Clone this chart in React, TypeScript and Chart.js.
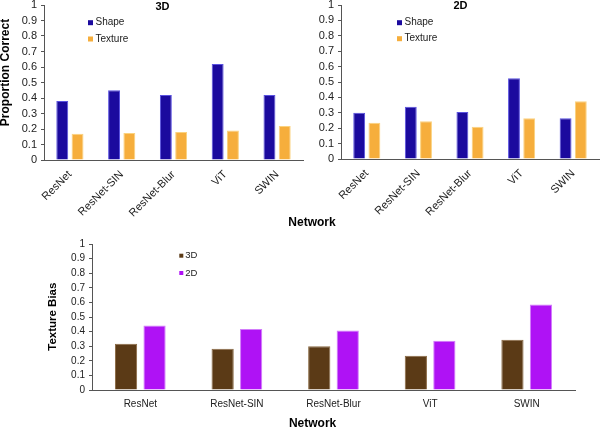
import React, { useEffect, useRef } from 'react';
import { Chart, registerables } from 'chart.js';
Chart.register(...registerables);

const networks = ['ResNet', 'ResNet-SIN', 'ResNet-Blur', 'ViT', 'SWIN'];
const shape3D = [0.38, 0.45, 0.42, 0.62, 0.42];
const texture3D = [0.17, 0.175, 0.18, 0.19, 0.22];
const shape2D = [0.3, 0.34, 0.305, 0.525, 0.265];
const texture2D = [0.235, 0.245, 0.21, 0.265, 0.375];
const bias3D = [0.317, 0.283, 0.299, 0.234, 0.345];
const bias2D = [0.441, 0.418, 0.407, 0.338, 0.586];

const FONT = "'Liberation Sans', Arial, Helvetica, sans-serif";
const SHAPE = '#1b0a9e';
const TEXTURE = '#f6ae3c';
const BROWN = '#5b3a16';
const PURPLE = '#af12f5';

type TextItem = { text: string; x: number; y: number; size: number; rotate?: boolean };
type LegendSpec = { x: number; y: number; gap: number; box: number; size: number; textGap: number };

function extrasPlugin(texts: TextItem[], legend: LegendSpec) {
  return {
    id: 'extras',
    afterDraw(chart: any) {
      const ctx = chart.ctx;
      ctx.save();
      ctx.fillStyle = '#000';
      ctx.textAlign = 'center';
      ctx.textBaseline = 'middle';
      texts.forEach((t) => {
        ctx.save();
        ctx.font = `bold ${t.size}px ${FONT}`;
        ctx.translate(t.x, t.y);
        if (t.rotate) ctx.rotate(-Math.PI / 2);
        ctx.fillText(t.text, 0, 0);
        ctx.restore();
      });
      chart.data.datasets.forEach((ds: any, i: number) => {
        const y = legend.y + i * legend.gap;
        ctx.fillStyle = ds.backgroundColor;
        ctx.fillRect(legend.x, y - legend.box / 2, legend.box, legend.box);
        ctx.fillStyle = '#222';
        ctx.font = `${legend.size}px ${FONT}`;
        ctx.textAlign = 'left';
        ctx.textBaseline = 'middle';
        ctx.fillText(ds.label, legend.x + legend.box + legend.textGap, y);
      });
      ctx.restore();
    },
  };
}

type PanelOpts = {
  datasets: { label: string; data: number[]; color: string; border: string }[];
  yWidth: number;
  xHeight: number;
  padding: { left: number; right: number; top: number; bottom: number };
  tickSize: number;
  xTickSize: number;
  rotation: number;
  xPadding: number;
  texts: TextItem[];
  legend: LegendSpec;
};

function makeConfig(o: PanelOpts): any {
  return {
    type: 'bar',
    data: {
      labels: networks,
      datasets: o.datasets.map((d) => ({
        label: d.label,
        data: d.data,
        backgroundColor: d.color,
        borderColor: d.border,
        borderWidth: { top: 1, left: 1, right: 1, bottom: 0 },
        categoryPercentage: 0.59,
        barPercentage: 0.78,
      })),
    },
    options: {
      responsive: false,
      animation: false,
      devicePixelRatio: 1,
      layout: { padding: o.padding },
      plugins: { legend: { display: false }, title: { display: false }, tooltip: { enabled: false } },
      scales: {
        x: {
          ticks: {
            font: { size: o.xTickSize, family: FONT },
            color: '#222',
            autoSkip: false,
            minRotation: o.rotation,
            maxRotation: o.rotation,
            padding: o.xPadding,
          },
          grid: { display: false },
          border: { display: true, color: '#555', width: 1 },
          afterFit: (s: any) => {
            s.height = o.xHeight;
            s.paddingLeft = 0;
            s.paddingRight = 0;
          },
        },
        y: {
          min: 0,
          max: 1,
          ticks: {
            stepSize: 0.1,
            autoSkip: false,
            font: { size: o.tickSize, family: FONT },
            color: '#222',
            padding: 4,
            callback: (v: any) => String(Math.round(Number(v) * 10) / 10),
          },
          grid: { display: true, drawOnChartArea: false, drawTicks: true, tickLength: 3, color: '#555' },
          border: { display: true, color: '#555', width: 1 },
          afterFit: (s: any) => {
            s.width = o.yWidth;
            s.paddingTop = 0;
            s.paddingBottom = 0;
          },
        },
      },
    },
    plugins: [extrasPlugin(o.texts, o.legend)],
  };
}

function Panel({ left, top, width, height, opts }: { left: number; top: number; width: number; height: number; opts: PanelOpts }) {
  const ref = useRef<HTMLCanvasElement>(null);
  useEffect(() => {
    if (!ref.current) return;
    const chart = new Chart(ref.current, makeConfig(opts));
    return () => chart.destroy();
  }, []);
  return (
    <canvas
      ref={ref}
      width={width}
      height={height}
      style={{ position: 'absolute', left, top, width, height }}
    />
  );
}

export default function App() {
  const topLeft: PanelOpts = {
    datasets: [
      { label: 'Shape', data: shape3D, color: SHAPE, border: '#5a52e0' },
      { label: 'Texture', data: texture3D, color: TEXTURE, border: '#fbd27e' },
    ],
    yWidth: 44,
    xHeight: 75,
    padding: { left: 0, right: 37, top: 5, bottom: 0 },
    tickSize: 11,
    xTickSize: 11,
    rotation: 45,
    xPadding: 0,
    texts: [
      { text: '3D', x: 162.5, y: 6.5, size: 11 },
      { text: 'Proportion Correct', x: 6, y: 72.5, size: 12, rotate: true },
      { text: 'Network', x: 312, y: 223, size: 12 },
    ],
    legend: { x: 88, y: 22.7, gap: 16.3, box: 5, size: 10, textGap: 2.5 },
  };
  const topRight: PanelOpts = {
    datasets: [
      { label: 'Shape', data: shape2D, color: SHAPE, border: '#5a52e0' },
      { label: 'Texture', data: texture2D, color: TEXTURE, border: '#fbd27e' },
    ],
    yWidth: 41,
    xHeight: 76,
    padding: { left: 0, right: 1, top: 5, bottom: 0 },
    tickSize: 11,
    xTickSize: 11,
    rotation: 45,
    xPadding: 0,
    texts: [{ text: '2D', x: 160.5, y: 6, size: 11 }],
    legend: { x: 97, y: 22.7, gap: 16, box: 5, size: 10, textGap: 2.5 },
  };
  const bottom: PanelOpts = {
    datasets: [
      { label: '3D', data: bias3D, color: BROWN, border: '#8a6a44' },
      { label: '2D', data: bias2D, color: PURPLE, border: '#d27cfb' },
    ],
    yWidth: 92,
    xHeight: 39,
    padding: { left: 0, right: 25, top: 14, bottom: 0 },
    tickSize: 10,
    xTickSize: 10,
    rotation: 0,
    xPadding: 0,
    texts: [
      { text: 'Texture Bias', x: 53, y: 86.7, size: 11.5, rotate: true },
      { text: 'Network', x: 312.6, y: 193.3, size: 12 },
    ],
    legend: { x: 179.3, y: 25.7, gap: 17.3, box: 4, size: 9.5, textGap: 2 },
  };
  return (
    <div style={{ position: 'absolute', left: 0, top: 0, width: 600, height: 429, background: '#fff', overflow: 'hidden' }}>
      <Panel left={0} top={0} width={340} height={235} opts={topLeft} />
      <Panel left={300} top={0} width={300} height={235} opts={topRight} />
      <Panel left={0} top={230} width={600} height={199} opts={bottom} />
    </div>
  );
}
